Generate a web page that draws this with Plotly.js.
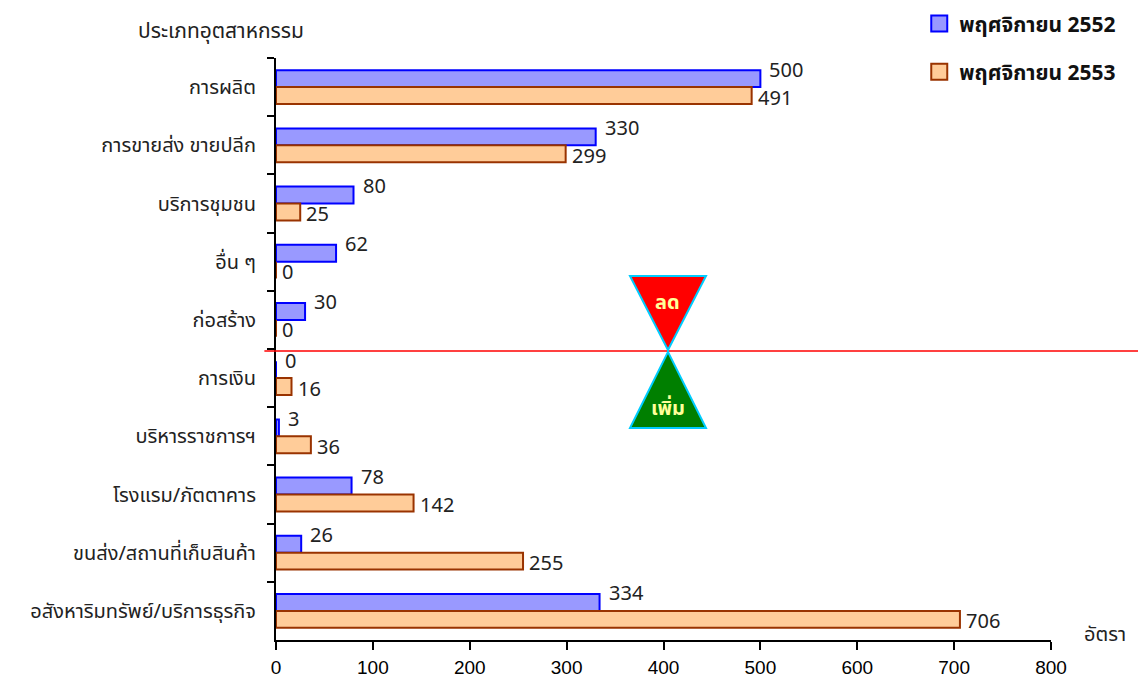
<!DOCTYPE html>
<html>
<head>
<meta charset="utf-8">
<script src="https://cdn.plot.ly/plotly-3.0.1.min.js"></script>
<style>html,body{margin:0;padding:0;background:#fff;}#chart{width:1138px;height:678px;}</style>
</head>
<body>
<div id="chart"></div>
<script>
const categories = ["การผลิต","การขายส่ง ขายปลีก","บริการชุมชน","อื่น ๆ","ก่อสร้าง","การเงิน","บริหารราชการฯ","โรงแรม/ภัตตาคาร","ขนส่ง/สถานที่เก็บสินค้า","อสังหาริมทรัพย์/บริการธุรกิจ"];
const values2552 = [500,330,80,62,30,0,3,78,26,334];
const values2553 = [491,299,25,0,0,16,36,142,255,706];
const seriesNames = ["พฤศจิกายน 2552","พฤศจิกายน 2553"];
const xTicks = [0,100,200,300,400,500,600,700,800];

const thai = "Noto Sans, Noto Sans Thai, DejaVu Sans, sans-serif";
const colors = [{fill:"#9999FF", line:"#0000FF"},{fill:"#FFCC99", line:"#993300"}];

const traces = [
  {type:"bar", orientation:"h", name:seriesNames[0], y:categories, x:values2552, showlegend:false,
   marker:{color:colors[0].fill, line:{color:colors[0].line, width:2}}, hoverinfo:"x"},
  {type:"bar", orientation:"h", name:seriesNames[1], y:categories, x:values2553, showlegend:false,
   marker:{color:colors[1].fill, line:{color:colors[1].line, width:2}}, hoverinfo:"x"},
  {type:"scatter", mode:"markers", name:seriesNames[0], x:[null], y:[null], legendgroup:"a", showlegend:true,
   marker:{symbol:"square", size:16, color:colors[0].fill, line:{color:colors[0].line, width:2}}},
  {type:"scatter", mode:"markers", name:seriesNames[1], x:[null], y:[null], legendgroup:"b", showlegend:true,
   marker:{symbol:"square", size:16, color:colors[1].fill, line:{color:colors[1].line, width:2}}}
];

const labelFont = {family:thai, size:20, color:"#222"};
const annotations = [];
values2552.forEach((v,i)=>annotations.push({x:v, y:categories[i], xref:"x", yref:"y", text:String(v),
  showarrow:false, xanchor:"left", yanchor:"middle", xshift:7, yshift:18, font:labelFont}));
values2553.forEach((v,i)=>annotations.push({x:v, y:categories[i], xref:"x", yref:"y", text:String(v),
  showarrow:false, xanchor:"left", yanchor:"middle", xshift:4, yshift:-10, font:labelFont}));
annotations.push({x:-0.071, y:1.048, xref:"paper", yref:"paper", text:"ประเภทอุตสาหกรรม", showarrow:false,
  xanchor:"center", yanchor:"middle", font:{family:thai, size:21, color:"#222"}});
annotations.push({x:1.07, y:0.012, xref:"paper", yref:"paper", text:"อัตรา", showarrow:false,
  xanchor:"center", yanchor:"middle", font:{family:thai, size:20, color:"#222"}});
annotations.push({x:0.5058, y:0.581, xref:"paper", yref:"paper", text:"<b>ลด</b>", showarrow:false,
  xanchor:"center", yanchor:"middle", font:{family:thai, size:20, color:"#FFFF99"}});
annotations.push({x:0.5058, y:0.40, xref:"paper", yref:"paper", text:"<b>เพิ่ม</b>", showarrow:false,
  xanchor:"center", yanchor:"middle", font:{family:thai, size:20, color:"#FFFF99"}});

const shapes = [
  {type:"line", xref:"paper", yref:"paper", x0:-0.015, x1:1.12, y0:0.4966, y1:0.4966, line:{color:"#FF0000", width:1.5}},
  {type:"path", xref:"paper", yref:"paper", path:"M0.4568,0.6254 L0.5548,0.6254 L0.5058,0.4983 Z",
   fillcolor:"#FF0000", line:{color:"#00CCFF", width:2}},
  {type:"path", xref:"paper", yref:"paper", path:"M0.4568,0.3643 L0.5548,0.3643 L0.5058,0.4950 Z",
   fillcolor:"#007F00", line:{color:"#00CCFF", width:2}}
];

const layout = {
  width:1138, height:678,
  margin:{l:276, r:87, t:58, b:38, autoexpand:false},
  paper_bgcolor:"#fff", plot_bgcolor:"#fff",
  barmode:"group", bargap:0.42, bargroupgap:0,
  showlegend:true,
  legend:{x:0.83, y:1.094, xanchor:"left", yanchor:"top", font:{family:thai, size:21, color:"#111", weight:"bold"},
    bgcolor:"rgba(0,0,0,0)", tracegroupgap:18, itemwidth:30, traceorder:"grouped"},
  xaxis:{range:[0,800], autorange:false, tickvals:xTicks, ticktext:xTicks.map(String), showgrid:false, zeroline:false,
    showline:true, linecolor:"#000", linewidth:2, ticks:"outside", ticklen:8, tickwidth:2, tickcolor:"#000",
    ticklabelstandoff:1,
    tickfont:{family:"Liberation Sans, Arial, sans-serif", size:19, color:"#000"}, fixedrange:true},
  yaxis:{type:"category", range:[categories.length-0.5, -0.5], autorange:false, showgrid:false, zeroline:false, showline:true, linecolor:"#000", linewidth:2,
    ticks:"outside", ticklen:7, tickwidth:2, tickcolor:"#000", tickson:"boundaries", ticklabelstandoff:14,
    tickfont:{family:thai, size:20, color:"#222"}, fixedrange:true},
  annotations:annotations, shapes:shapes
};

Plotly.newPlot("chart", traces, layout, {displayModeBar:false, staticPlot:true});
</script>
</body>
</html>
